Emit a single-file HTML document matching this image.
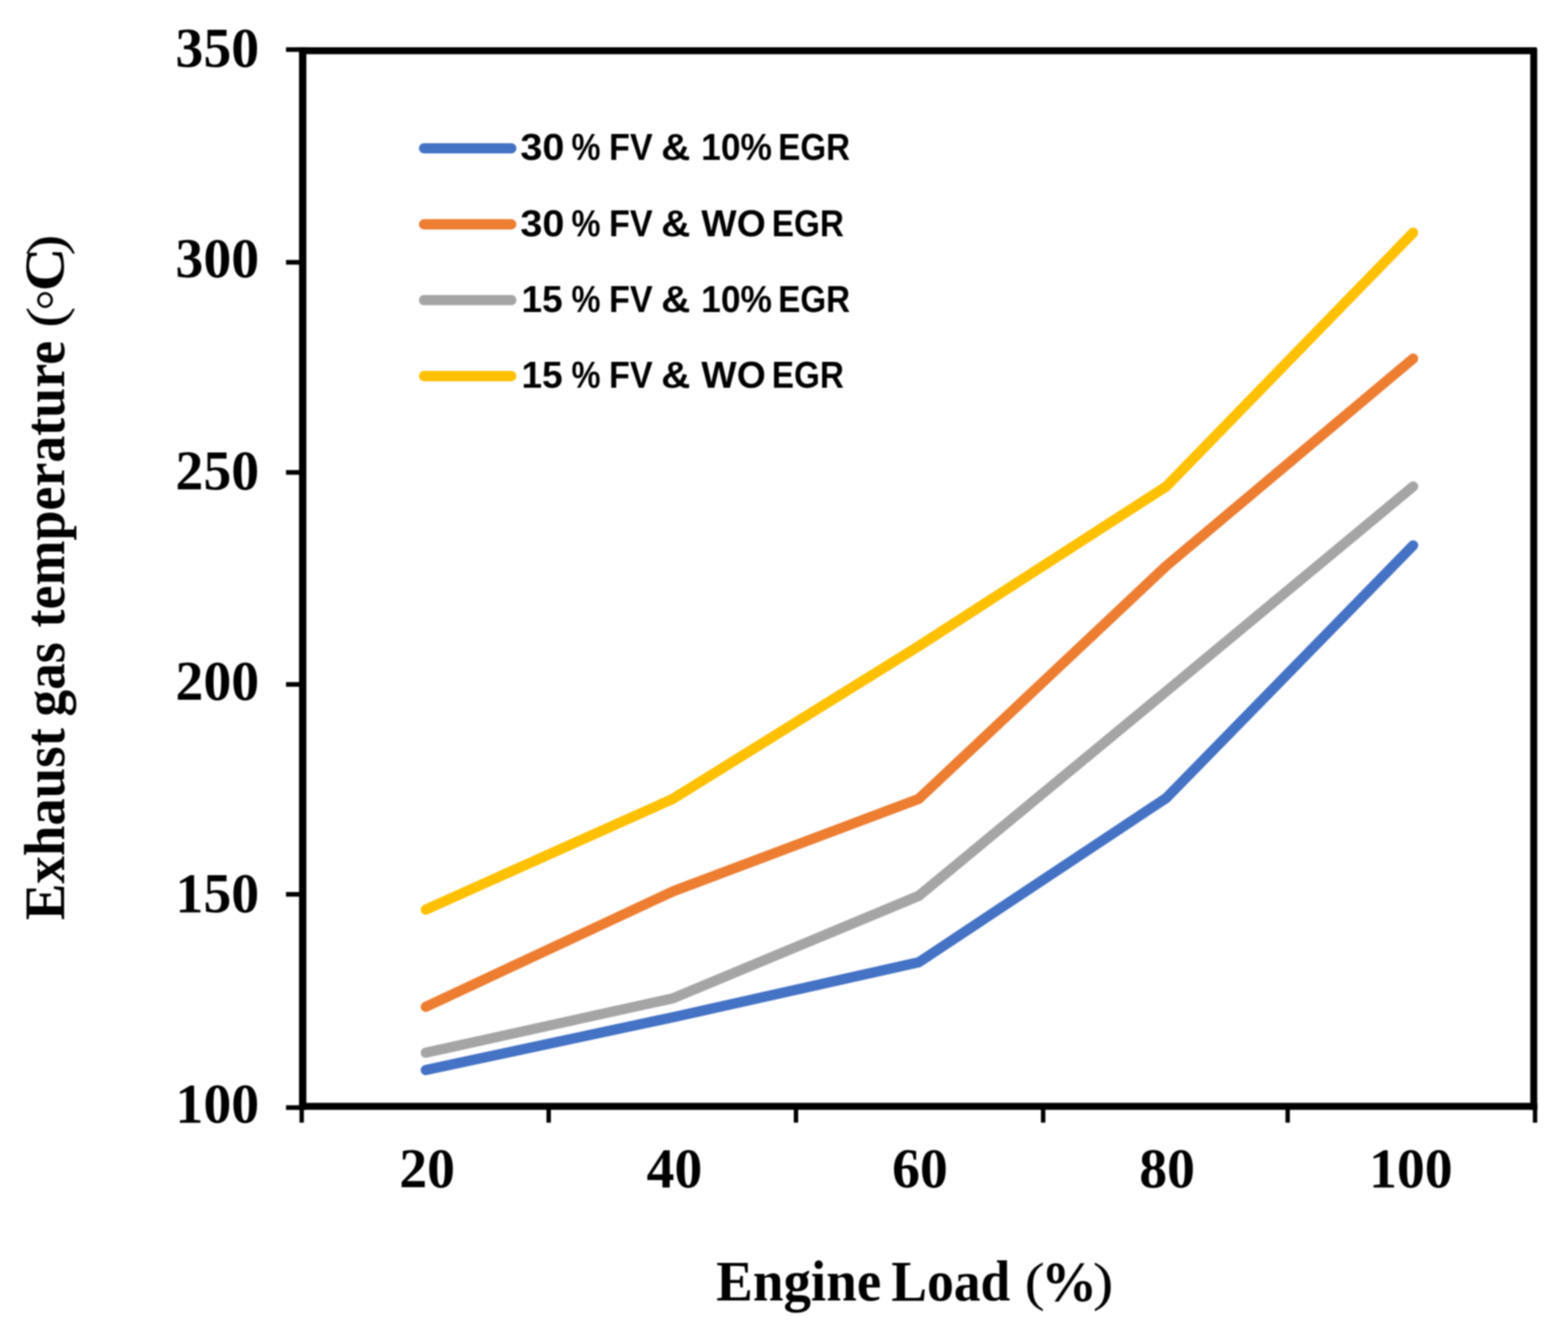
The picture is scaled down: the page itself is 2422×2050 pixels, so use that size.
<!DOCTYPE html>
<html lang="en">
<head>
<meta charset="utf-8">
<title>Exhaust gas temperature vs Engine Load</title>
<style>
html,body{margin:0;padding:0;background:#fff;}
body{width:2422px;height:2050px;overflow:hidden;}
svg{display:block;filter:blur(1px);}
text{fill:#000;white-space:pre;font-family:"Liberation Serif","DejaVu Serif",serif;font-weight:bold;}
.r{font-weight:normal;}
#legend text{font-family:"Liberation Sans","DejaVu Sans",sans-serif;font-weight:bold;font-size:58.23px;}
#xlabels text,#ylabels text{font-size:86.07px;}
#xtitle,#ytitle{font-size:88.4px;}
</style>
</head>
<body>
<svg xmlns="http://www.w3.org/2000/svg" width="2422" height="2050" viewBox="0 0 2422 2050">
<rect x="-20" y="-20" width="2462" height="2090" fill="#ffffff"/>
<g id="frame" fill="#000">
<rect x="461.9" y="72.9" width="11.3" height="1641.6"/>
<rect x="461.9" y="1703.7" width="1912.6" height="10.8"/>
<path d="M461.9 72.9 H2371.5 Q2374.5 72.9 2374.5 75.9 V1714.5 H2363.7 V83.7 H461.9 Z"/>
</g>
<g id="ticks" fill="#000">
<rect x="441.8" y="73" width="22.1" height="7.2"/>
<rect x="441.8" y="401.6" width="22.1" height="7.2"/>
<rect x="441.8" y="726.2" width="22.1" height="7.2"/>
<rect x="441.8" y="1053.7" width="22.1" height="7.2"/>
<rect x="441.8" y="1378" width="22.1" height="7.2"/>
<rect x="441.8" y="1707.45" width="22.1" height="7.2"/>
<rect x="462.6" y="1705.7" width="6.8" height="28.6"/>
<rect x="844.1" y="1705.7" width="6.8" height="28.6"/>
<rect x="1226.1" y="1705.7" width="6.8" height="28.6"/>
<rect x="1607.9" y="1705.7" width="6.8" height="28.6"/>
<rect x="1985.6" y="1705.7" width="6.8" height="28.6"/>
<rect x="2367.7" y="1705.7" width="6.8" height="28.6"/>
</g>
<g id="ylabels">
<text x="271.12" y="103.34">350</text>
<text x="271.12" y="427.89">300</text>
<text x="271.12" y="755.99">250</text>
<text x="271.12" y="1080.94">200</text>
<text x="271.12" y="1408.89">150</text>
<text x="271.12" y="1733.74">100</text>
</g>
<g id="xlabels">
<text x="616.8" y="1834.44">20</text>
<text x="998.84" y="1834.44">40</text>
<text x="1377.92" y="1834.44">60</text>
<text x="1759.63" y="1834.44">80</text>
<text x="2114.67" y="1834.44">100</text>
</g>
<text id="xtitle" y="2009"><tspan x="1106.21" textLength="254.99" lengthAdjust="spacingAndGlyphs">Engine</tspan> <tspan x="1376.75" textLength="183.83" lengthAdjust="spacingAndGlyphs">Load</tspan> <tspan class="r" font-size="81.66" x="1582.82" y="2008.45" textLength="30.95" lengthAdjust="spacingAndGlyphs">(</tspan><tspan font-size="85.76" x="1608.25" y="2008.93" textLength="86.36" lengthAdjust="spacingAndGlyphs">%</tspan><tspan class="r" font-size="81.66" x="1687.9" y="2008.45" textLength="31.81" lengthAdjust="spacingAndGlyphs">)</tspan></text>
<text id="ytitle" transform="translate(98.5 0) rotate(-90)" y="0"><tspan x="-1421.48" textLength="296.62" lengthAdjust="spacingAndGlyphs">Exhaust</tspan> <tspan x="-1107.07" textLength="114.77" lengthAdjust="spacingAndGlyphs">gas</tspan> <tspan x="-969.25" textLength="442.63" lengthAdjust="spacingAndGlyphs">temperature</tspan> <tspan class="r" font-size="81.77" x="-506.41" y="-0.98" textLength="32.65" lengthAdjust="spacingAndGlyphs">(</tspan><tspan class="r" font-size="101.03" x="-481.56" y="2.4" textLength="35.82" lengthAdjust="spacingAndGlyphs">◦</tspan><tspan font-size="87.73" x="-450.07" y="-0.48" textLength="67.48" lengthAdjust="spacingAndGlyphs">C</tspan><tspan class="r" font-size="81.77" x="-395.02" y="-0.98" textLength="32.98" lengthAdjust="spacingAndGlyphs">)</tspan></text>
<g id="data" fill="none" stroke-width="15.8" stroke-linecap="round" stroke-linejoin="round">
<polyline stroke="#4472C4" points="657.7,1653 1039.5,1571.5 1419.3,1486.5 1801.5,1232.8 2182.8,842.6"/>
<polyline stroke="#ED7D31" points="657.7,1555.4 1039.5,1377 1419.3,1234.1 1801.5,874.2 2182.8,554"/>
<polyline stroke="#A5A5A5" points="657.7,1626.3 1039.5,1542.2 1419.3,1383.9 1801.5,1068 2182.8,751.5"/>
<polyline stroke="#FFC000" points="657.7,1405.2 1039.5,1234 1419.3,998 1801.5,751.5 2182.8,359.4"/>
</g>
<g id="legend">
<line x1="655" y1="229.2" x2="789.8" y2="229.2" stroke="#4472C4" stroke-width="15.8" stroke-linecap="round"/>
<text y="247.22"><tspan x="803.82" textLength="68.12" lengthAdjust="spacingAndGlyphs">30</tspan> <tspan x="882.64" textLength="44.8" lengthAdjust="spacingAndGlyphs">%</tspan> <tspan x="940.85" textLength="67.27" lengthAdjust="spacingAndGlyphs">FV</tspan> <tspan x="1021.19" textLength="45.12" lengthAdjust="spacingAndGlyphs">&amp;</tspan> <tspan x="1082.98" textLength="109.47" lengthAdjust="spacingAndGlyphs">10%</tspan> <tspan x="1201.94" textLength="111.09" lengthAdjust="spacingAndGlyphs">EGR</tspan></text>
<line x1="655" y1="346.5" x2="789.8" y2="346.5" stroke="#ED7D31" stroke-width="15.8" stroke-linecap="round"/>
<text y="364.92"><tspan x="803.82" textLength="68.12" lengthAdjust="spacingAndGlyphs">30</tspan> <tspan x="882.64" textLength="44.8" lengthAdjust="spacingAndGlyphs">%</tspan> <tspan x="940.85" textLength="67.27" lengthAdjust="spacingAndGlyphs">FV</tspan> <tspan x="1021.19" textLength="45.12" lengthAdjust="spacingAndGlyphs">&amp;</tspan> <tspan x="1083.36" textLength="99.45" lengthAdjust="spacingAndGlyphs">WO</tspan> <tspan x="1192.34" textLength="111.09" lengthAdjust="spacingAndGlyphs">EGR</tspan></text>
<line x1="655" y1="463.7" x2="789.8" y2="463.7" stroke="#A5A5A5" stroke-width="15.8" stroke-linecap="round"/>
<text y="481.62"><tspan x="805.42" textLength="63.75" lengthAdjust="spacingAndGlyphs">15</tspan> <tspan x="882.64" textLength="44.8" lengthAdjust="spacingAndGlyphs">%</tspan> <tspan x="940.85" textLength="67.27" lengthAdjust="spacingAndGlyphs">FV</tspan> <tspan x="1021.19" textLength="45.12" lengthAdjust="spacingAndGlyphs">&amp;</tspan> <tspan x="1082.98" textLength="109.47" lengthAdjust="spacingAndGlyphs">10%</tspan> <tspan x="1201.94" textLength="111.09" lengthAdjust="spacingAndGlyphs">EGR</tspan></text>
<line x1="655" y1="581" x2="789.8" y2="581" stroke="#FFC000" stroke-width="15.8" stroke-linecap="round"/>
<text y="598.72"><tspan x="805.42" textLength="63.75" lengthAdjust="spacingAndGlyphs">15</tspan> <tspan x="882.64" textLength="44.8" lengthAdjust="spacingAndGlyphs">%</tspan> <tspan x="940.85" textLength="67.27" lengthAdjust="spacingAndGlyphs">FV</tspan> <tspan x="1021.19" textLength="45.12" lengthAdjust="spacingAndGlyphs">&amp;</tspan> <tspan x="1083.36" textLength="99.45" lengthAdjust="spacingAndGlyphs">WO</tspan> <tspan x="1192.34" textLength="111.09" lengthAdjust="spacingAndGlyphs">EGR</tspan></text>
</g>
</svg>
</body>
</html>
